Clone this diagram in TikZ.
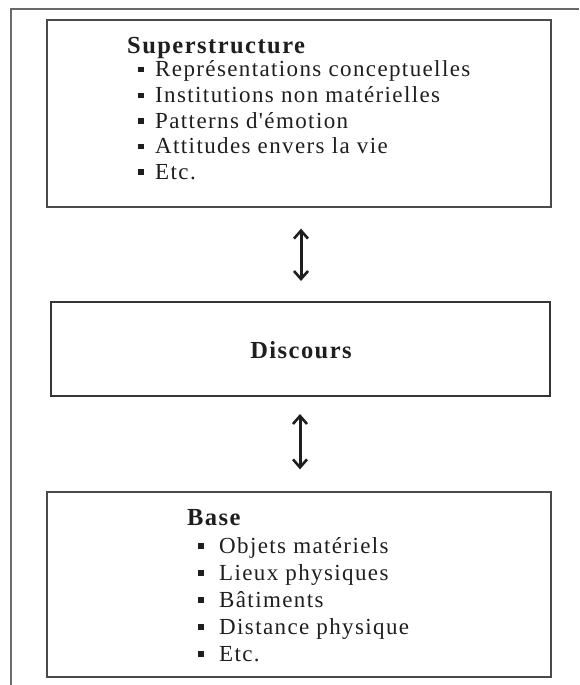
\documentclass[tikz,border=0pt]{standalone}
\usepackage{fontspec}
\setmainfont{Liberation Serif}
\newfontfamily\spacedfont[LetterSpace=6]{Liberation Serif}
\usetikzlibrary{arrows.meta}

\definecolor{ink}{HTML}{1E1E1E}
\definecolor{frameline}{HTML}{6A6A6A}
\definecolor{boxline}{HTML}{4A4A4A}

\newcommand\sqbullet{\rule[4.5pt]{5.5pt}{5.5pt}}

\tikzset{
  panel/.style={draw=boxline, line width=1.3pt, rectangle, inner sep=0pt},
  midpanel/.style={draw=ink!90, line width=2pt, rectangle, inner sep=0pt},
  heading/.style={anchor=base west, inner sep=0pt, text=ink,
    font=\spacedfont\bfseries\fontsize{24.5}{28}\selectfont},
  entry/.style={anchor=base west, inner sep=0pt, text=ink,
    font=\spacedfont\fontsize{23}{27}\selectfont},
  link/.style={draw=ink, line width=3pt,
    {Straight Barb[length=8pt,width=14pt,line width=2.6pt]}-{Straight Barb[length=8pt,width=14pt,line width=2.6pt]}},
}

\begin{document}
\begin{tikzpicture}[x=1pt,y=-1pt]
  \useasboundingbox (0,0) rectangle (579,685);

  % outer frame (left and top rules)
  \coordinate (fb) at (11,685);
  \coordinate (fc) at (11,9);
  \coordinate (fr) at (579,9);
  \draw[frameline, line width=1.2pt] (fb) -- (fc) -- (fr);

  % the three panels
  \node[panel, minimum width=504pt, minimum height=187pt] (top) at (299,113.5) {};
  \node[midpanel, minimum width=499pt, minimum height=94pt] (disc) at (300.5,349) {};
  \node[panel, minimum width=504pt, minimum height=185pt] (base) at (299,584.5) {};

  % upper panel
  \node[heading] (supt) at (127,53) {Superstructure};
  \foreach \txt [count=\i] in {Représentations conceptuelles,
      Institutions non matérielles, Patterns d'émotion,
      Attitudes envers la vie, Etc.}
    \node[entry] (sup\i) at (138,{77+25.6*(\i-1)})
      {\makebox[17pt][l]{\sqbullet}\txt};

  % middle panel
  \node[heading, anchor=base] (disct) at (301,358) {Discours};

  % lower panel
  \node[heading] (baset) at (187,525) {Base};
  \foreach \txt [count=\i] in {Objets matériels, Lieux physiques,
      Bâtiments, Distance physique, Etc.}
    \node[entry] (bas\i) at (198,{553+27*(\i-1)})
      {\makebox[21pt][l]{\sqbullet}\txt};

  % two-way links
  \draw[link, shorten <=21pt, shorten >=20pt] ([xshift=2pt]top.south) -- ([xshift=0.5pt]disc.north);
  \draw[link, shorten <=17pt, shorten >=22pt] ([xshift=-0.5pt]disc.south) -- ([xshift=1pt]base.north);
\end{tikzpicture}
\end{document}
